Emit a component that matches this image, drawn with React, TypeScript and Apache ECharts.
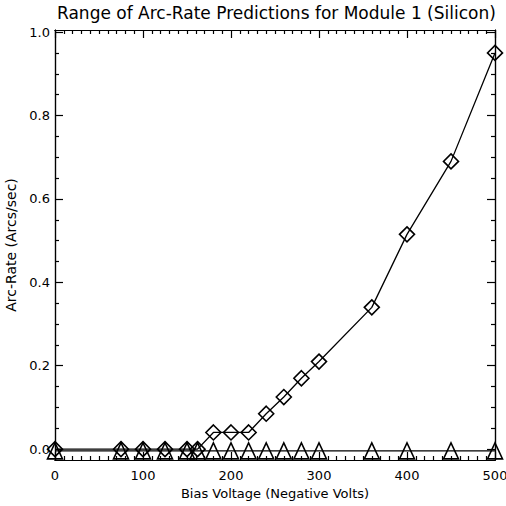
import React, { useEffect, useRef } from "react";
import * as echarts from "echarts";

const voltages = [0, 75, 100, 125, 150, 162, 180, 200, 220, 240, 260, 280, 300, 360, 400, 450, 500];
const upperRates = [0, 0, 0, 0, 0, 0, 0.04, 0.04, 0.04, 0.085, 0.125, 0.17, 0.21, 0.34, 0.515, 0.69, 0.95];
const lowerRates = [-0.004, -0.004, -0.004, -0.004, -0.004, -0.004, -0.004, -0.004, -0.004, -0.004, -0.004, -0.004, -0.004, -0.004, -0.004, -0.004, -0.004];
const xMajorTicks = [0, 100, 200, 300, 400, 500];
const xMinorTicks = [
  10, 20, 30, 40, 50, 60, 70, 80, 90,
  110, 120, 130, 140, 150, 160, 170, 180, 190,
  210, 220, 230, 240, 250, 260, 270, 280, 290,
  310, 320, 330, 340, 350, 360, 370, 380, 390,
  410, 420, 430, 440, 450, 460, 470, 480, 490,
];
const yMajorTicks = [0, 0.2, 0.4, 0.6, 0.8, 1.0];
const yMinorTicks = [0.05, 0.1, 0.15, 0.25, 0.3, 0.35, 0.45, 0.5, 0.55, 0.65, 0.7, 0.75, 0.85, 0.9, 0.95];

const FONT = "DejaVu Sans";
const Y_MIN = -0.026;
const Y_MAX = 1.005;

export default function App() {
  const ref = useRef<HTMLDivElement>(null);
  useEffect(() => {
    document.body.style.margin = "0";
    const chart = echarts.init(ref.current!, null, { renderer: "svg" });
    const axisLine = () => ({ show: true, onZero: false, lineStyle: { color: "#000", width: 1.2 } });
    const yBase = (position: string, ticks: number[], len: number, labels: boolean, name?: string) => ({
      type: "value",
      min: Y_MIN,
      max: Y_MAX,
      position,
      offset: 0,
      name: name || "",
      nameLocation: "middle",
      nameGap: 21,
      nameTextStyle: { color: "#000", fontFamily: FONT, fontSize: 14 },
      splitLine: { show: false },
      axisLine: axisLine(),
      axisTick: { show: true, inside: true, length: len, customValues: ticks, lineStyle: { color: "#000", width: 1.2 } },
      axisLabel: labels
        ? { show: true, customValues: ticks, color: "#000", fontFamily: FONT, fontSize: 13, margin: 5, formatter: (v: number) => v.toFixed(1) }
        : { show: false },
    });
    const xBase = (position: string, ticks: number[], len: number, labels: boolean, name?: string) => ({
      type: "value",
      min: 0,
      max: 500,
      interval: 100,
      position,
      offset: 0,
      name: name || "",
      nameLocation: "middle",
      nameGap: 24,
      nameTextStyle: { color: "#000", fontFamily: FONT, fontSize: 13 },
      splitLine: { show: false },
      axisLine: axisLine(),
      axisTick: { show: true, inside: true, length: len, customValues: ticks, lineStyle: { color: "#000", width: 1.2 } },
      axisLabel: labels
        ? { show: true, customValues: ticks, color: "#000", fontFamily: FONT, fontSize: 13, margin: 9, formatter: (v: number) => String(v) }
        : { show: false },
    });
    chart.setOption({
      animation: false,
      backgroundColor: "#fff",
      title: {
        text: "Range of Arc-Rate Predictions for Module 1 (Silicon)",
        left: 57,
        top: 4,
        padding: 0,
        textStyle: { color: "#000", fontFamily: FONT, fontSize: 17, fontWeight: "normal" },
      },
      grid: { left: 55, right: 11, top: 30, bottom: 46, containLabel: false, outerBoundsMode: "none" },
      xAxis: [
        xBase("bottom", xMajorTicks, 8, true, "Bias Voltage (Negative Volts)"),
        xBase("bottom", xMinorTicks, 4, false),
        xBase("top", xMajorTicks, 8, false),
        xBase("top", xMinorTicks, 4, false),
      ],
      yAxis: [
        yBase("left", yMajorTicks, 8, true, "Arc-Rate (Arcs/sec)"),
        yBase("left", yMinorTicks, 4, false),
        yBase("right", yMajorTicks, 8, false),
        yBase("right", yMinorTicks, 4, false),
      ],
      series: [
        {
          type: "line",
          data: voltages.map((v, i) => [v, lowerRates[i]]),
          symbol: "triangle",
          symbolSize: [15, 16],
          showAllSymbol: true,
          clip: false,
          lineStyle: { color: "#000", width: 1.3 },
          itemStyle: { color: "rgba(255,255,255,0)", borderColor: "#000", borderWidth: 1.6 },
        },
        {
          type: "line",
          data: voltages.map((v, i) => [v, upperRates[i]]),
          symbol: "diamond",
          symbolSize: [15, 15],
          showAllSymbol: true,
          clip: false,
          lineStyle: { color: "#000", width: 1.3 },
          itemStyle: { color: "rgba(255,255,255,0)", borderColor: "#000", borderWidth: 1.6 },
        },
      ],
    });
    return () => chart.dispose();
  }, []);
  return <div ref={ref} style={{ width: 506, height: 506 }} />;
}
